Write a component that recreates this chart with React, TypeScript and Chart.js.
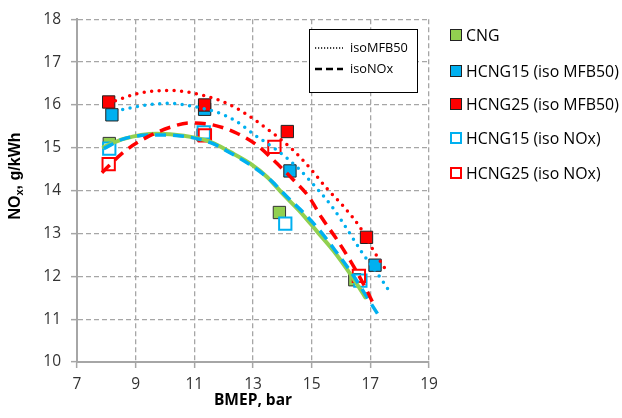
import React, { useEffect, useRef } from "react";
import { Chart, registerables } from "chart.js";

Chart.register(...registerables);

// ---- Data ----
const seriesNames = [
  "CNG",
  "HCNG15 (iso MFB50)",
  "HCNG25 (iso MFB50)",
  "HCNG15 (iso NOx)",
  "HCNG25 (iso NOx)",
];

const cngBmep = [8.1, 11.3, 13.9, 16.47];
const cngNox = [15.1, 15.3, 13.49, 11.92];

const h15MfbBmep = [8.19, 11.35, 14.26, 17.16];
const h15MfbNox = [15.77, 15.9, 14.46, 12.26];

const h25MfbBmep = [8.08, 11.35, 14.17, 16.87];
const h25MfbNox = [16.07, 16.0, 15.38, 12.91];

const h15NoxBmep = [8.1, 11.32, 14.1, 16.66];
const h15NoxNox = [14.98, 15.36, 13.23, 11.9];

const h25NoxBmep = [8.08, 11.36, 13.73, 16.61];
const h25NoxNox = [14.62, 15.29, 15.02, 12.01];

// Trend curves (sampled along the drawn curves)
const cngTrendX = [7.91, 8.59, 9.73, 10.64, 11.55, 12.23, 12.91, 13.48, 14.05, 14.62, 15.18, 15.75, 16.32, 16.83];
const cngTrendY = [15.02, 15.21, 15.33, 15.28, 15.14, 14.9, 14.63, 14.32, 13.9, 13.5, 13.05, 12.59, 12.05, 11.51];

const h15NoxTrendX = [7.91, 8.59, 9.73, 10.64, 11.55, 12.23, 12.91, 13.59, 14.21, 14.73, 15.3, 15.86, 16.43, 16.89, 17.28];
const h15NoxTrendY = [14.98, 15.21, 15.3, 15.27, 15.12, 14.88, 14.6, 14.25, 13.82, 13.48, 13.05, 12.55, 12.01, 11.51, 11.09];

const h25NoxTrendX = [7.85, 8.59, 9.39, 10.18, 10.86, 11.66, 12.45, 13.14, 13.7, 14.38, 14.9, 15.35, 15.86, 16.32, 16.89, 17.17];
const h25NoxTrendY = [14.42, 14.9, 15.25, 15.48, 15.58, 15.53, 15.34, 15.06, 14.71, 14.25, 13.86, 13.36, 12.86, 12.36, 11.66, 11.26];

const h15MfbTrendX = [8.31, 8.59, 9.39, 10.18, 10.86, 11.77, 12.4, 13.08, 13.82, 14.5, 15.18, 15.69, 16.32, 16.72, 17.34, 17.62];
const h15MfbTrendY = [15.85, 15.9, 16.0, 16.04, 15.98, 15.83, 15.63, 15.29, 14.94, 14.55, 14.05, 13.63, 12.98, 12.55, 11.97, 11.68];

const h25MfbTrendX = [8.31, 9.1, 10.07, 10.86, 11.77, 12.4, 13.02, 13.7, 14.38, 14.95, 15.52, 16.09, 16.66, 17.11, 17.57];
const h25MfbTrendY = [16.1, 16.27, 16.34, 16.29, 16.13, 15.94, 15.67, 15.33, 14.94, 14.52, 14.05, 13.63, 13.13, 12.6, 12.11];

const xMin = 7;
const xMax = 19;
const xStep = 2;
const yMin = 10;
const yMax = 18;
const yStep = 1;

const xTitle = "BMEP, bar";
const boxLegendLabels = ["isoMFB50", "isoNOx"];

// ---- Styles ----
const GREEN = "#92D050";
const BLUE = "#00B0F0";
const RED = "#FF0000";
const GRID = "#a6a6a6";
const TICK_FONT = '"Open Sans", "Liberation Sans", sans-serif';

const pts = (xs: number[], ys: number[]) => xs.map((x, i) => ({ x, y: ys[i] }));

const legendStyles = [
  { fill: GREEN, stroke: "#222", lw: 1 },
  { fill: BLUE, stroke: "#222", lw: 1 },
  { fill: RED, stroke: "#222", lw: 1 },
  { fill: "#fff", stroke: BLUE, lw: 2 },
  { fill: "#fff", stroke: RED, lw: 2 },
];

// pick a font size so that `text` spans `target` px
function fitSize(ctx: CanvasRenderingContext2D, text: string, target: number, family: string, maxSize: number) {
  ctx.font = `16px ${family}`;
  const w = ctx.measureText(text).width || 1;
  return Math.min(maxSize, (16 * target) / w);
}

const overlayPlugin = {
  id: "overlay",
  afterDraw(chart: any) {
    const ctx: CanvasRenderingContext2D = chart.ctx;
    ctx.save();

    // Y axis title with subscript
    ctx.save();
    ctx.translate(16, 176);
    ctx.rotate(-Math.PI / 2);
    ctx.fillStyle = "#000";
    ctx.textBaseline = "middle";
    ctx.textAlign = "left";
    const big = 'bold 16px "Liberation Sans", Arial, sans-serif';
    const small = 'bold 11px "Liberation Sans", Arial, sans-serif';
    ctx.font = big;
    const w1 = ctx.measureText("NO").width;
    const w3 = ctx.measureText(", g/kWh").width;
    ctx.font = small;
    const w2 = ctx.measureText("x").width;
    const x0 = -(w1 + w2 + w3) / 2;
    ctx.font = big;
    ctx.fillText("NO", x0, 0);
    ctx.font = small;
    ctx.fillText("x", x0 + w1, 4);
    ctx.font = big;
    ctx.fillText(", g/kWh", x0 + w1 + w2, 0);
    ctx.restore();

    // X axis title
    const area = chart.chartArea;
    ctx.fillStyle = "#000";
    ctx.font = `bold 15.5px ${TICK_FONT}`;
    ctx.textAlign = "center";
    ctx.textBaseline = "middle";
    ctx.fillText(xTitle, (area.left + area.right) / 2, 401);

    // Right legend
    const rowsY = [35, 71, 104, 138, 173];
    ctx.textAlign = "left";
    const legSize = fitSize(ctx, seriesNames[1], 153, TICK_FONT, 17);
    ctx.font = `${legSize}px ${TICK_FONT}`;
    seriesNames.forEach((name, i) => {
      const st = legendStyles[i];
      const y = rowsY[i];
      ctx.fillStyle = st.fill;
      ctx.fillRect(450, y - 6, 12, 12);
      ctx.strokeStyle = st.stroke;
      ctx.lineWidth = st.lw;
      ctx.strokeRect(450 + st.lw / 2, y - 6 + st.lw / 2, 12 - st.lw, 12 - st.lw);
      ctx.fillStyle = "#000";
      ctx.fillText(name, 466, y + 1);
    });

    // Inner line-style legend box
    ctx.fillStyle = "#fff";
    ctx.fillRect(309, 29, 108, 63);
    ctx.strokeStyle = "#000";
    ctx.lineWidth = 1;
    ctx.strokeRect(309.5, 29.5, 108, 63);

    ctx.beginPath();
    ctx.setLineDash([1.2, 1.8]);
    ctx.lineWidth = 1.5;
    ctx.moveTo(315, 48);
    ctx.lineTo(343, 48);
    ctx.stroke();

    ctx.beginPath();
    ctx.setLineDash([7, 4]);
    ctx.lineWidth = 2.5;
    ctx.moveTo(315, 69);
    ctx.lineTo(343, 69);
    ctx.stroke();
    ctx.setLineDash([]);

    ctx.fillStyle = "#000";
    const boxSize = fitSize(ctx, boxLegendLabels[0], 58, TICK_FONT, 15);
    ctx.font = `${boxSize}px ${TICK_FONT}`;
    ctx.textBaseline = "middle";
    ctx.fillText(boxLegendLabels[0], 350, 48);
    ctx.fillText(boxLegendLabels[1], 350, 69);

    ctx.restore();
  },
};

export default function App() {
  const canvasRef = useRef<HTMLCanvasElement | null>(null);

  useEffect(() => {
    document.body.style.margin = "0";
    const canvas = canvasRef.current;
    if (!canvas) return;

    const markerDs = (label: string, xs: number[], ys: number[], fill: string, stroke: string, bw: number, order: number) => ({
      type: "scatter" as const,
      label,
      data: pts(xs, ys),
      showLine: false,
      pointStyle: "rect",
      pointRadius: 8.7,
      pointHoverRadius: 8.7,
      backgroundColor: fill,
      borderColor: stroke,
      borderWidth: bw,
      order,
    });

    const lineDs = (xs: number[], ys: number[], color: string, width: number, dash: number[], cap: string, order: number) => ({
      type: "line" as const,
      label: "",
      data: pts(xs, ys),
      showLine: true,
      borderColor: color,
      backgroundColor: color,
      borderWidth: width,
      borderDash: dash,
      borderCapStyle: cap,
      pointRadius: 0,
      fill: false,
      cubicInterpolationMode: "monotone",
      order,
    });

    const chart = new Chart(canvas, {
      type: "scatter",
      data: {
        datasets: [
          markerDs(seriesNames[0], cngBmep, cngNox, GREEN, "#333", 1, 15),
          markerDs(seriesNames[1], h15MfbBmep, h15MfbNox, BLUE, "#222", 1, 14),
          markerDs(seriesNames[2], h25MfbBmep, h25MfbNox, RED, "#222", 1, 13),
          markerDs(seriesNames[3], h15NoxBmep, h15NoxNox, "#fff", BLUE, 2, 12),
          markerDs(seriesNames[4], h25NoxBmep, h25NoxNox, "rgba(255,255,255,0)", RED, 2, 11),
          lineDs(cngTrendX, cngTrendY, GREEN, 4, [], "round", 6),
          lineDs(h15NoxTrendX, h15NoxTrendY, BLUE, 3.5, [11, 7], "butt", 5),
          lineDs(h25NoxTrendX, h25NoxTrendY, RED, 3.5, [11, 7], "butt", 4),
          lineDs(h15MfbTrendX, h15MfbTrendY, BLUE, 3.5, [0, 7.5], "round", 3),
          lineDs(h25MfbTrendX, h25MfbTrendY, RED, 3.5, [0, 7.5], "round", 2),
        ] as any,
      },
      options: {
        animation: false,
        responsive: false,
        maintainAspectRatio: false,
        layout: { padding: { top: 16, right: 193, left: 0, bottom: 0 } },
        plugins: {
          legend: { display: false },
          tooltip: { enabled: false },
          title: { display: false },
        },
        scales: {
          x: {
            type: "linear",
            min: xMin,
            max: xMax,
            ticks: { stepSize: xStep, color: "#333", font: { family: TICK_FONT, size: 15.5 }, padding: 7, maxRotation: 0 },
            grid: { color: GRID, lineWidth: 1.3, tickLength: 6, tickColor: GRID, tickWidth: 1.5, tickBorderDash: [] },
            border: { color: GRID, width: 2, dash: [5, 3] },
            afterFit: (scale: any) => {
              scale.height = 56;
            },
          },
          y: {
            type: "linear",
            min: yMin,
            max: yMax,
            ticks: { stepSize: yStep, color: "#333", font: { family: TICK_FONT, size: 15.5 }, padding: 10 },
            grid: { color: GRID, lineWidth: 1.3, tickLength: 6, tickColor: GRID, tickWidth: 1.5, tickBorderDash: [] },
            border: { color: GRID, width: 2, dash: [5, 3] },
            afterFit: (scale: any) => {
              scale.width = 77;
            },
          },
        },
      } as any,
      plugins: [overlayPlugin],
    });

    return () => {
      chart.destroy();
    };
  }, []);

  return (
    <div style={{ width: 622, height: 418, background: "#fff" }}>
      <canvas ref={canvasRef} width={622} height={418} style={{ display: "block", width: 622, height: 418 }} />
    </div>
  );
}
